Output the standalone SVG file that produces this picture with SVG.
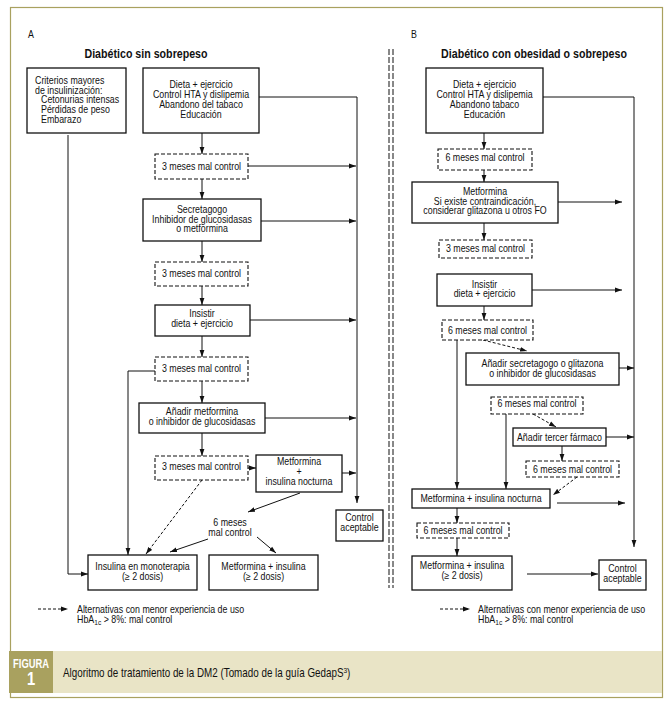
<svg xmlns="http://www.w3.org/2000/svg" width="671" height="705" viewBox="0 0 671 705">
<style>
text{font-family:"Liberation Sans",Arial,sans-serif;font-size:10px;fill:#111}
.c{text-anchor:middle}
.t{font-size:13px;font-weight:bold}
.box{fill:#fff;stroke:#111;stroke-width:1.3}
.dbox{fill:#fff;stroke:#111;stroke-width:1.1;stroke-dasharray:4 2}
.ln{fill:none;stroke:#111;stroke-width:1}
.dl{fill:none;stroke:#111;stroke-width:1;stroke-dasharray:3 2}
</style>
<defs>
<marker id="ah" markerWidth="7" markerHeight="6" refX="7" refY="3" orient="auto" markerUnits="userSpaceOnUse"><path d="M0,0.6 L7,3 L0,5.4 z" fill="#111"/></marker>
</defs>
<rect x="0" y="0" width="671" height="705" fill="#fff"/>
<rect x="10.5" y="7.5" width="652" height="690" fill="none" stroke="#a9a15f" stroke-width="1.2"/>
<rect x="53" y="651" width="609" height="42" fill="#e9e4c6"/>
<rect x="9" y="651" width="44" height="42" fill="#a9a15f"/>
<g transform="matrix(0.75 0 0 1 31 0)"><text x="0" y="668" class="c" style="fill:#fff;font-weight:bold;font-size:12.5px">FIGURA</text></g>
<g transform="matrix(0.82 0 0 1 31 0)"><text x="0" y="685" class="c" style="fill:#fff;font-weight:bold;font-size:18px">1</text></g>
<g transform="matrix(0.82 0 0 1 63 0)"><text x="0" y="677" style="font-size:12px">Algoritmo de tratamiento de la DM2 (Tomado de la guía GedapS<tspan dy="-4" style="font-size:8px">3</tspan><tspan dy="4">)</tspan></text></g>

<g transform="matrix(0.885 0 0 1 28 0)"><text x="0" y="38">A</text></g>
<g transform="matrix(0.885 0 0 1 411 0)"><text x="0" y="38">B</text></g>
<g transform="matrix(0.82 0 0 1 146 0)"><text x="0" y="58" class="c t">Diabético sin sobrepeso</text></g>
<g transform="matrix(0.82 0 0 1 534 0)"><text x="0" y="58" class="c t">Diabético con obesidad o sobrepeso</text></g>

<g id="separator">
<line x1="389" y1="49" x2="389" y2="588" class="ln" style="stroke-dasharray:6 2"/>
<line x1="393" y1="49" x2="393" y2="588" class="ln" style="stroke-dasharray:6 2"/>
</g>

<g id="connectors">
<line x1="202" y1="133" x2="202" y2="154" class="ln" marker-end="url(#ah)"/>
<line x1="202" y1="179" x2="202" y2="199" class="ln" marker-end="url(#ah)"/>
<line x1="202" y1="241" x2="202" y2="262" class="ln" marker-end="url(#ah)"/>
<line x1="202" y1="286" x2="202" y2="305" class="ln" marker-end="url(#ah)"/>
<line x1="202" y1="336" x2="202" y2="357" class="ln" marker-end="url(#ah)"/>
<line x1="202" y1="381" x2="202" y2="403" class="ln" marker-end="url(#ah)"/>
<line x1="202" y1="433" x2="202" y2="456" class="ln" marker-end="url(#ah)"/>
<line x1="248" y1="468" x2="256" y2="468" class="ln" marker-end="url(#ah)"/>
<polyline points="259,97 357,97 357,503" class="ln" marker-end="url(#ah)"/>
<line x1="248" y1="166" x2="356" y2="166" class="ln" marker-end="url(#ah)"/>
<line x1="261" y1="221" x2="356" y2="221" class="ln" marker-end="url(#ah)"/>
<line x1="250" y1="320" x2="356" y2="320" class="ln" marker-end="url(#ah)"/>
<line x1="265" y1="418" x2="356" y2="418" class="ln" marker-end="url(#ah)"/>
<line x1="342" y1="473" x2="356" y2="473" class="ln" marker-end="url(#ah)"/>
<polyline points="68,135 68,574 88,574" class="ln" marker-end="url(#ah)"/>
<polyline points="155,371 128,371 128,555" class="ln" marker-end="url(#ah)"/>
<line x1="202" y1="480" x2="146" y2="554" class="dl" marker-end="url(#ah)"/>
<line x1="300" y1="493" x2="248" y2="512" class="ln" marker-end="url(#ah)"/>
<line x1="208" y1="539" x2="170" y2="552" class="ln" marker-end="url(#ah)"/>
<line x1="257" y1="537" x2="276" y2="553" class="ln" marker-end="url(#ah)"/>
<line x1="38" y1="609" x2="68" y2="609" class="dl" marker-end="url(#ah)"/>

<line x1="484" y1="133" x2="484" y2="149" class="ln" marker-end="url(#ah)"/>
<line x1="484" y1="170" x2="484" y2="182" class="ln" marker-end="url(#ah)"/>
<line x1="484" y1="223" x2="484" y2="240" class="ln" marker-end="url(#ah)"/>
<line x1="484" y1="306" x2="484" y2="320" class="ln" marker-end="url(#ah)"/>
<line x1="483" y1="340" x2="527" y2="351" class="dl" marker-end="url(#ah)"/>
<line x1="457" y1="340" x2="457" y2="489" class="ln" marker-end="url(#ah)"/>
<line x1="619" y1="368" x2="634" y2="368" class="ln" marker-end="url(#ah)"/>
<line x1="506" y1="414" x2="506" y2="489" class="ln" marker-end="url(#ah)"/>
<line x1="533" y1="414" x2="556" y2="427" class="dl" marker-end="url(#ah)"/>
<line x1="606" y1="437" x2="634" y2="437" class="ln" marker-end="url(#ah)"/>
<line x1="562" y1="446" x2="562" y2="461" class="ln" marker-end="url(#ah)"/>
<line x1="577" y1="477" x2="553" y2="495" class="dl" marker-end="url(#ah)"/>
<line x1="557" y1="503" x2="625" y2="503" class="ln" marker-end="url(#ah)"/>
<line x1="457" y1="508" x2="457" y2="523" class="ln" marker-end="url(#ah)"/>
<line x1="457" y1="538" x2="457" y2="556" class="ln" marker-end="url(#ah)"/>
<line x1="527" y1="574" x2="598" y2="574" class="ln" marker-end="url(#ah)"/>
<polyline points="543,97 634,97 634,547" class="ln" marker-end="url(#ah)"/>
<line x1="558" y1="202" x2="622" y2="202" class="ln" marker-end="url(#ah)"/>
<line x1="532" y1="290" x2="622" y2="290" class="ln" marker-end="url(#ah)"/>
<line x1="440" y1="609" x2="470" y2="609" class="dl" marker-end="url(#ah)"/>
</g>

<g id="a-criterios"><rect x="27" y="68" width="99" height="65" class="box"/>
<g transform="matrix(0.885 0 0 1 35 0)"><text><tspan x="0" y="84">Criterios mayores</tspan><tspan x="0" y="94">de insulinización:</tspan><tspan x="6.8" y="103.5">Cetonurias intensas</tspan><tspan x="6.8" y="113.5">Pérdidas de peso</tspan><tspan x="6.8" y="123">Embarazo</tspan></text></g></g>
<g id="a-dieta"><rect x="143" y="68" width="116" height="65" class="box"/>
<g transform="matrix(0.885 0 0 1 201 0)"><text class="c"><tspan x="0" y="88">Dieta + ejercicio</tspan><tspan x="0" y="98">Control HTA y dislipemia</tspan><tspan x="0" y="108">Abandono del tabaco</tspan><tspan x="0" y="118">Educación</tspan></text></g></g>
<g id="a-d1"><rect x="155" y="154" width="93" height="25" class="dbox"/><g transform="matrix(0.885 0 0 1 201.5 0)"><text x="0" y="170" class="c">3 meses mal control</text></g></g>
<g id="a-secretagogo"><rect x="143" y="199" width="118" height="42" class="box"/>
<g transform="matrix(0.885 0 0 1 202 0)"><text class="c"><tspan x="0" y="213">Secretagogo</tspan><tspan x="0" y="223">Inhibidor de glucosidasas</tspan><tspan x="0" y="232.5">o metformina</tspan></text></g></g>
<g id="a-d2"><rect x="155" y="262" width="93" height="24" class="dbox"/><g transform="matrix(0.885 0 0 1 201.5 0)"><text x="0" y="277" class="c">3 meses mal control</text></g></g>
<g id="a-insistir"><rect x="155" y="305" width="95" height="31" class="box"/>
<g transform="matrix(0.885 0 0 1 202 0)"><text class="c"><tspan x="0" y="317">Insistir</tspan><tspan x="0" y="327.5">dieta + ejercicio</tspan></text></g></g>
<g id="a-d3"><rect x="155" y="357" width="93" height="24" class="dbox"/><g transform="matrix(0.885 0 0 1 201.5 0)"><text x="0" y="372" class="c">3 meses mal control</text></g></g>
<g id="a-anadir"><rect x="139" y="403" width="126" height="30" class="box"/>
<g transform="matrix(0.885 0 0 1 202 0)"><text class="c"><tspan x="0" y="415">Añadir metformina</tspan><tspan x="0" y="425">o inhibidor de glucosidasas</tspan></text></g></g>
<g id="a-d4"><rect x="155" y="456" width="93" height="24" class="dbox"/><g transform="matrix(0.885 0 0 1 201.5 0)"><text x="0" y="470" class="c">3 meses mal control</text></g></g>
<g id="a-metf-noct"><rect x="256" y="455" width="86" height="37" class="box"/>
<g transform="matrix(0.885 0 0 1 299 0)"><text class="c"><tspan x="0" y="465">Metformina</tspan><tspan x="0" y="475">+</tspan><tspan x="0" y="485">insulina nocturna</tspan></text></g></g>
<g id="a-control"><rect x="336" y="510" width="47" height="31" class="box"/>
<g transform="matrix(0.885 0 0 1 359.5 0)"><text class="c"><tspan x="0" y="521.5">Control</tspan><tspan x="0" y="531.5">aceptable</tspan></text></g></g>
<g id="a-6meses"><g transform="matrix(0.885 0 0 1 230 0)"><text class="c"><tspan x="0" y="525.7">6 meses</tspan><tspan x="0" y="535.7">mal control</tspan></text></g></g>
<g id="a-insulina"><rect x="88" y="555" width="109" height="35" class="box"/>
<g transform="matrix(0.885 0 0 1 142.5 0)"><text class="c"><tspan x="0" y="570">Insulina en monoterapia</tspan><tspan x="0" y="580">(≥ 2 dosis)</tspan></text></g></g>
<g id="a-metf-ins"><rect x="209" y="555" width="109" height="35" class="box"/>
<g transform="matrix(0.885 0 0 1 263.5 0)"><text class="c"><tspan x="0" y="570">Metformina + insulina</tspan><tspan x="0" y="580">(≥ 2 dosis)</tspan></text></g></g>
<g id="a-legend"><g transform="matrix(0.885 0 0 1 77 0)"><text x="0" y="612.7">Alternativas con menor experiencia de uso</text>
<text x="0" y="623.3">HbA<tspan dy="2" style="font-size:7.5px">1c</tspan><tspan dy="-2"> &gt; 8%: mal control</tspan></text></g></g>

<g id="b-dieta"><rect x="426" y="68" width="117" height="65" class="box"/>
<g transform="matrix(0.885 0 0 1 484.5 0)"><text class="c"><tspan x="0" y="88">Dieta + ejercicio</tspan><tspan x="0" y="98">Control HTA y dislipemia</tspan><tspan x="0" y="108">Abandono tabaco</tspan><tspan x="0" y="118">Educación</tspan></text></g></g>
<g id="b-d1"><rect x="438" y="149" width="94" height="21" class="dbox"/><g transform="matrix(0.885 0 0 1 485 0)"><text x="0" y="161" class="c">6 meses mal control</text></g></g>
<g id="b-metformina"><rect x="412" y="182" width="146" height="41" class="box"/>
<g transform="matrix(0.885 0 0 1 485 0)"><text class="c"><tspan x="0" y="195">Metformina</tspan><tspan x="0" y="204.7">Si existe contraindicación,</tspan><tspan x="0" y="214.3">considerar glitazona u otros FO</tspan></text></g></g>
<g id="b-d2"><rect x="439" y="240" width="93" height="18" class="dbox"/><g transform="matrix(0.885 0 0 1 485.5 0)"><text x="0" y="252" class="c">3 meses mal control</text></g></g>
<g id="b-insistir"><rect x="437" y="274" width="95" height="32" class="box"/>
<g transform="matrix(0.885 0 0 1 484.5 0)"><text class="c"><tspan x="0" y="287.7">Insistir</tspan><tspan x="0" y="297.3">dieta + ejercicio</tspan></text></g></g>
<g id="b-d3"><rect x="442" y="320" width="91" height="20" class="dbox"/><g transform="matrix(0.885 0 0 1 487.5 0)"><text x="0" y="334.3" class="c">6 meses mal control</text></g></g>
<g id="b-anadir"><rect x="466" y="353" width="153" height="32" class="box"/>
<g transform="matrix(0.885 0 0 1 542.5 0)"><text class="c"><tspan x="0" y="366.7">Añadir secretagogo o glitazona</tspan><tspan x="0" y="376.7">o inhibidor de glucosidasas</tspan></text></g></g>
<g id="b-d4"><rect x="491" y="397" width="92" height="17" class="dbox"/><g transform="matrix(0.885 0 0 1 537 0)"><text x="0" y="407.3" class="c">6 meses mal control</text></g></g>
<g id="b-tercer"><rect x="513" y="428" width="93" height="18" class="box"/><g transform="matrix(0.885 0 0 1 559.5 0)"><text x="0" y="440.7" class="c">Añadir tercer fármaco</text></g></g>
<g id="b-d5"><rect x="526" y="461" width="93" height="16" class="dbox"/><g transform="matrix(0.885 0 0 1 572.5 0)"><text x="0" y="472.7" class="c">6 meses mal control</text></g></g>
<g id="b-metf-noct"><rect x="412" y="489" width="138" height="19" class="box"/><g transform="matrix(0.885 0 0 1 481 0)"><text x="0" y="501.7" class="c">Metformina + insulina nocturna</text></g></g>
<g id="b-d6"><rect x="417" y="523" width="92" height="15" class="dbox"/><g transform="matrix(0.885 0 0 1 463 0)"><text x="0" y="534" class="c">6 meses mal control</text></g></g>
<g id="b-metf-ins"><rect x="412" y="556" width="100" height="34" class="box"/>
<g transform="matrix(0.885 0 0 1 462 0)"><text class="c"><tspan x="0" y="569">Metformina + insulina</tspan><tspan x="0" y="579">(≥ 2 dosis)</tspan></text></g></g>
<g id="b-control"><rect x="599" y="560" width="47" height="30" class="box"/>
<g transform="matrix(0.885 0 0 1 622.5 0)"><text class="c"><tspan x="0" y="571.7">Control</tspan><tspan x="0" y="581.7">aceptable</tspan></text></g></g>
<g id="b-legend"><g transform="matrix(0.885 0 0 1 478 0)"><text x="0" y="612.7">Alternativas con menor experiencia de uso</text>
<text x="0" y="623.3">HbA<tspan dy="2" style="font-size:7.5px">1c</tspan><tspan dy="-2"> &gt; 8%: mal control</tspan></text></g></g>
</svg>
